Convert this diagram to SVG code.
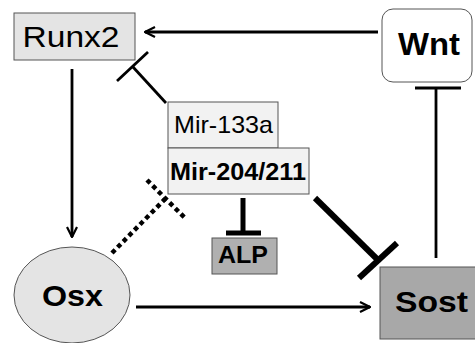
<svg xmlns="http://www.w3.org/2000/svg" width="475" height="343" viewBox="0 0 475 343">
<style>
text{font-family:"Liberation Sans",Arial,sans-serif;fill:#000;text-anchor:middle}
.b{font-weight:bold}
.ln{stroke:#000;fill:none}
</style>
<defs>
<marker id="arr" viewBox="0 0 12 12" refX="11" refY="6" markerWidth="12" markerHeight="12" markerUnits="userSpaceOnUse" orient="auto">
<path d="M1,1 L11,6 L1,11" fill="none" stroke="#000" stroke-width="2.2"/>
</marker>
</defs>
<rect width="475" height="343" fill="#fff"/>
<g id="connectors">
<line class="ln" x1="378" y1="32" x2="145" y2="32" stroke-width="2.8" marker-end="url(#arr)"/>
<line class="ln" x1="72" y1="69" x2="72" y2="237" stroke-width="2.8" marker-end="url(#arr)"/>
<line class="ln" x1="136" y1="307" x2="370" y2="307" stroke-width="2.8" marker-end="url(#arr)"/>
<line class="ln" x1="166" y1="103" x2="133" y2="67" stroke-width="2.8"/>
<line class="ln" x1="117" y1="81" x2="148" y2="52" stroke-width="2.8"/>
<line class="ln" x1="436" y1="258" x2="436" y2="88" stroke-width="2.8"/>
<line class="ln" x1="415" y1="88" x2="461" y2="88" stroke-width="2.8"/>
<line class="ln" x1="243" y1="198" x2="243" y2="233" stroke-width="5"/>
<line class="ln" x1="226" y1="233" x2="261" y2="233" stroke-width="5"/>
<line class="ln" x1="315" y1="198" x2="378" y2="260" stroke-width="6"/>
<line class="ln" x1="359" y1="278" x2="397" y2="243" stroke-width="6"/>
<line class="ln" x1="112" y1="253" x2="165" y2="199" stroke-width="4.5" stroke-dasharray="4.5 3.5"/>
<line class="ln" x1="147" y1="180" x2="185" y2="218" stroke-width="4.5" stroke-dasharray="4.5 3.5"/>
</g>
<g id="runx2">
<rect x="14" y="13" width="121" height="47" fill="#e4e4e4" stroke="#555" stroke-width="1"/>
<text x="71" y="47" font-size="30" textLength="97" lengthAdjust="spacingAndGlyphs">Runx2</text>
</g>
<g id="wnt">
<rect x="382" y="9" width="90" height="73" rx="11" fill="#fff" stroke="#555" stroke-width="1"/>
<text x="429" y="55" font-size="31" class="b" textLength="62" lengthAdjust="spacingAndGlyphs">Wnt</text>
</g>
<g id="mir133a">
<rect x="168" y="102" width="110" height="46" fill="#f2f2f2" stroke="#555" stroke-width="1"/>
<text x="223.5" y="133" font-size="24" textLength="99" lengthAdjust="spacingAndGlyphs">Mir-133a</text>
</g>
<g id="mir204">
<rect x="168" y="148" width="141" height="46" fill="#f2f2f2" stroke="#555" stroke-width="1"/>
<text x="238" y="180" font-size="24" class="b" textLength="136" lengthAdjust="spacingAndGlyphs">Mir-204/211</text>
</g>
<g id="alp">
<rect x="212" y="238" width="65" height="36" fill="#b0b0b0" stroke="#555" stroke-width="1"/>
<text x="243" y="263" font-size="24" class="b" textLength="50" lengthAdjust="spacingAndGlyphs">ALP</text>
</g>
<g id="osx">
<ellipse cx="72" cy="295" rx="58" ry="48" fill="#e4e4e4" stroke="#555" stroke-width="1"/>
<text x="72.5" y="306" font-size="30" class="b" textLength="61" lengthAdjust="spacingAndGlyphs">Osx</text>
</g>
<g id="sost">
<rect x="380" y="267" width="100" height="72" fill="#a8a8a8" stroke="#555" stroke-width="1"/>
<text x="431.5" y="312" font-size="30" class="b" textLength="73" lengthAdjust="spacingAndGlyphs">Sost</text>
</g>
</svg>
